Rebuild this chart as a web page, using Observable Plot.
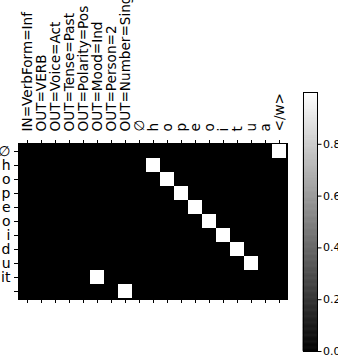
<!DOCTYPE html>
<html>
<head>
<meta charset="utf-8">
<script src="https://cdn.jsdelivr.net/npm/d3@7"></script>
<script src="https://cdn.jsdelivr.net/npm/@observablehq/plot@0.6"></script>
<style>
  html, body { margin: 0; padding: 0; background: white; }
  #wrap { position: relative; width: 338px; height: 355px; overflow: hidden; background: white; }
  #wrap svg { position: absolute; top: 0; }
</style>
</head>
<body>
<div id="wrap"></div>
<script>
// Column (x) tick labels
const xLabels = ["IN=VerbForm=Inf", "OUT=VERB", "OUT=Voice=Act", "OUT=Tense=Past",
  "OUT=Polarity=Pos", "OUT=Mood=Ind", "OUT=Person=2", "OUT=Number=Sing",
  "∅", "h", "o", "p", "e", "o", "i", "t", "u", "a", "</w>"];
// Row (y) tick labels
const yLabels = ["∅", "h", "o", "p", "e", "o", "i", "d", "u", "it", ""];
// Attention weights, one row per y label, one value per x label
const weights = [
  [0,0,0,0,0,0,0,0,0,0,0,0,0,0,0,0,0,0,1],
  [0,0,0,0,0,0,0,0,0,1,0,0,0,0,0,0,0,0,0],
  [0,0,0,0,0,0,0,0,0,0,1,0,0,0,0,0,0,0,0],
  [0,0,0,0,0,0,0,0,0,0,0,1,0,0,0,0,0,0,0],
  [0,0,0,0,0,0,0,0,0,0,0,0,1,0,0,0,0,0,0],
  [0,0,0,0,0,0,0,0,0,0,0,0,0,1,0,0,0,0,0],
  [0,0,0,0,0,0,0,0,0,0,0,0,0,0,1,0,0,0,0],
  [0,0,0,0,0,0,0,0,0,0,0,0,0,0,0,1,0,0,0],
  [0,0,0,0,0,0,0,0,0,0,0,0,0,0,0,0,1,0,0],
  [0,0,0,0,0,1,0,0,0,0,0,0,0,0,0,0,0,0,0],
  [0,0,0,0,0,0,0,1,0,0,0,0,0,0,0,0,0,0,0]
];
// Colorbar
const colorDomain = [0, 1];
const cbarTicks = [0, 0.2, 0.4, 0.6, 0.8];

const cells = [];
weights.forEach((row, r) => row.forEach((v, c) => cells.push({row: r, col: c, value: v})));

const colorScale = {type: "linear", domain: colorDomain, range: ["black", "white"]};
const font = "DejaVu Sans, sans-serif";

const main = Plot.plot({
  width: 288,
  height: 355,
  marginLeft: 18,
  marginRight: 1,
  marginTop: 143,
  marginBottom: 56,
  style: {fontFamily: font, fontSize: "14px", background: "transparent", color: "black"},
  x: {type: "band", domain: xLabels.map((_, i) => i), padding: 0, axis: null, label: null},
  y: {type: "band", domain: yLabels.map((_, i) => i), padding: 0, axis: null, label: null},
  color: colorScale,
  marks: [
    Plot.frame({fill: "black"}),
    Plot.cell(cells, {x: "col", y: "row", fill: "value", inset: 0}),
    Plot.frame({stroke: "black", strokeWidth: 1}),
    Plot.axisX({anchor: "top", tickRotate: -90, tickSize: 4, tickPadding: 8, label: null,
      tickFormat: i => xLabels[i], fontSize: 13.6}),
    Plot.axisX({anchor: "bottom", tickSize: 4, label: null, tickFormat: () => ""}),
    Plot.axisY({anchor: "left", tickSize: 4, tickPadding: 4, label: null,
      tickFormat: i => yLabels[i], fontSize: 14})
  ]
});
main.style.left = "0px";

const steps = d3.range(0, 300).map(i => i / 300);
const cbar = Plot.plot({
  width: 48,
  height: 355,
  marginLeft: 13,
  marginRight: 21,
  marginTop: 92,
  marginBottom: 4,
  style: {fontFamily: font, fontSize: "11px", background: "transparent", color: "black", overflow: "visible"},
  x: {domain: [0, 1], axis: null, label: null},
  y: {domain: colorDomain, axis: null, label: null},
  color: colorScale,
  marks: [
    Plot.rect(steps, {x1: 0, x2: 1, y1: d => d, y2: d => d + 1 / 300, fill: d => d + 0.5 / 300,
      stroke: d => d + 0.5 / 300, strokeWidth: 0.6}),
    Plot.frame({stroke: "black", strokeWidth: 1}),
    Plot.axisY(cbarTicks, {anchor: "right", tickSize: 3.5, tickPadding: 2, label: null,
      tickFormat: d3.format(".1f"), fontSize: 11})
  ]
});
cbar.style.left = "290px";

const wrap = document.getElementById("wrap");
wrap.appendChild(main);
wrap.appendChild(cbar);
</script>
</body>
</html>
